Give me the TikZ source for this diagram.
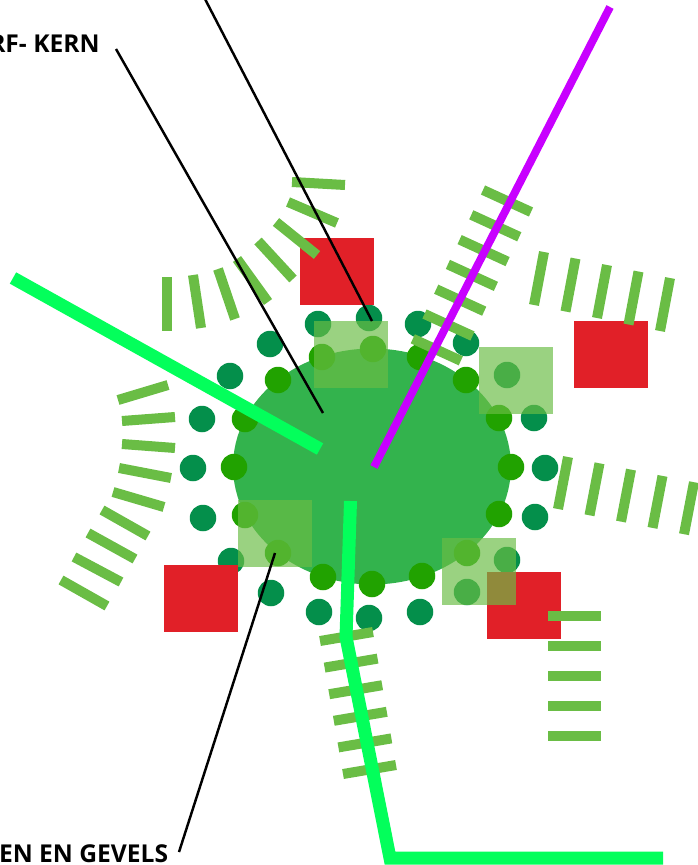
\documentclass[tikz,border=0pt]{standalone}
\usepackage{fontspec}
\usetikzlibrary{shapes.geometric}
\setmainfont{Open Sans}
\definecolor{corecol}{HTML}{33B34D}
\definecolor{innercol}{HTML}{21A200}
\definecolor{outercol}{HTML}{048F4B}
\definecolor{blockcol}{HTML}{E12028}
\definecolor{barcol}{HTML}{6ABD45}
\definecolor{roadcol}{HTML}{03FF5B}
\definecolor{railcol}{HTML}{C800FF}
\tikzset{
    innerdot/.style={circle,fill=innercol,inner sep=0pt,minimum size=0.53cm},
    outerdot/.style={circle,fill=outercol,inner sep=0pt,minimum size=0.53cm},
    block/.style={fill=blockcol,inner sep=0pt,minimum width=1.48cm,minimum height=1.34cm},
    plein/.style={fill=barcol,fill opacity=0.68,inner sep=0pt,minimum width=1.48cm,minimum height=1.34cm},
    bar/.style={draw=barcol,line width=5.7pt},
    road/.style={draw=roadcol,line width=7.4pt},
    leader/.style={draw=black,line width=1.4pt},
    lab/.style={font=\bfseries\fontsize{14}{16}\selectfont,inner sep=0pt}
}
\begin{document}
\begin{tikzpicture}[x=0.02cm,y=-0.02cm]
    \useasboundingbox (0,0) rectangle (697,865);
    % kern
    \node[ellipse,fill=corecol,inner sep=0pt,minimum width=5.56cm,minimum height=4.72cm] (core) at (372,466.5) {};
    % binnenste en buitenste ring
    \foreach \X/\Y [count=\i] in {278/380,322/357,373/349,420/357,466/380,499/418,511/467,499/514,467/553,422/576,372/584,323/577,278/553,245/515,234/467,245/419}
    {\node[innerdot] (in\i) at (\X,\Y) {};}
    \foreach \X/\Y [count=\i] in {318/324,369/318,418/324,466/343,507/375,534/418,545/468,535/517,507/560,467/592,420/612,369/618,319/612,271/593,231/561,203/518,193/468,202/419,230/376,270/344}
    {\node[outerdot] (out\i) at (\X,\Y) {};}
    % rode blokken
    \node[block] (blockn) at (337,271.5) {};
    \node[block] (blocke) at (611,354.5) {};
    \node[block] (blockw) at (201,598.5) {};
    \node[block] (blocks) at (524,605.5) {};
    % stroken
    \foreach \X/\Y/\U/\V in {167/277/167/331,193/275/201/328,218/269/235/319,237/259/268/302,258/241/293/279,276/222/317/255,288/202/337/223,292/182/345/185}
    {\draw[bar] (\X,\Y) -- (\U,\V);}
    \foreach \X/\Y/\U/\V in {118/400/168/385,122/421/175/417,122/444/175/448,119/468/171/478,113/492/164/507,102/510/148/536,88/533/135/559,74/557/121/582,61/580/107/606}
    {\draw[bar] (\X,\Y) -- (\U,\V);}
    \foreach \i in {0,...,6}
    {\draw[bar] ({483-11.7*\i},{190+24.8*\i}) -- ++(48,22);}
    \foreach \i in {0,...,4}
    {\draw[bar] ({544+31.5*\i},{252+6.5*\i}) -- ++(-10,53);
     \draw[bar] ({568+31.5*\i},{457+6.3*\i}) -- ++(-10,52);
     \draw[bar] (548,{616+30*\i}) -- ++(53,0);}
    \foreach \i in {0,...,5}
    {\draw[bar] ({320+4.6*\i},{641+26.6*\i}) -- ++(53,-9);}
    % pleinen
    \node[plein] (pleinn) at (351,354.5) {};
    \node[plein] (pleine) at (516,380.5) {};
    \node[plein] (pleinw) at (275,533.5) {};
    \node[plein] (pleins) at (479,571.5) {};
    % wegen
    \coordinate (roadwa) at (13,278);
    \coordinate (roadwb) at (320,449);
    \coordinate (roadsa) at (350.5,501);
    \coordinate (roadsb) at (346,637);
    \coordinate (roadsc) at (390,858);
    \coordinate (roadsd) at (663,858);
    \coordinate (raila) at (610,7);
    \coordinate (railb) at (374,467);
    \draw[road] (roadwa) -- (roadwb);
    \draw[road] (roadsa) -- (roadsb) -- (roadsc) -- (roadsd);
    \draw[draw=railcol,line width=4.5pt] (raila) -- (railb);
    % labels
    \node[lab,anchor=base east] (kernlab) at (100,52.5) {RF- KERN};
    \node[lab,anchor=base east] (gevellab) at (168.5,862) {EN EN GEVELS};
    \coordinate (topa) at (205,-1);
    \coordinate (topb) at (372,321);
    \coordinate (kerna) at (116,49);
    \coordinate (kernb) at (323,413);
    \coordinate (gevela) at (179,852);
    \coordinate (gevelb) at (275,553);
    \draw[leader] (topa) -- (topb);
    \draw[leader] (kerna) -- (kernb);
    \draw[leader] (gevela) -- (gevelb);
\end{tikzpicture}
\end{document}
